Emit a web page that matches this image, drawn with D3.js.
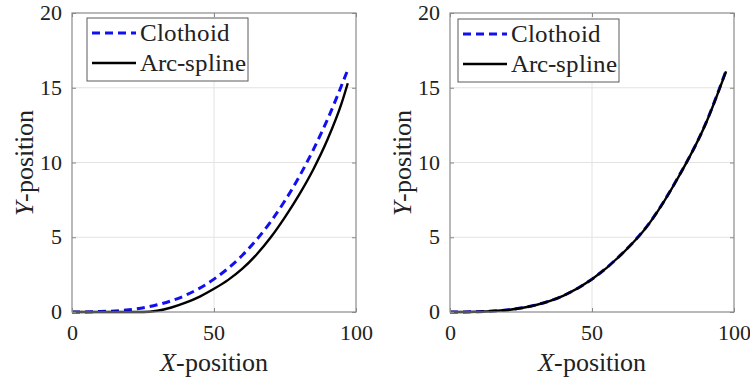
<!DOCTYPE html>
<html><head><meta charset="utf-8"><script src="https://cdn.jsdelivr.net/npm/d3@7"></script>
<style>
  @font-face { font-family: "CMish"; font-style: normal; src: local("Liberation Serif"), local("LiberationSerif"), local("Liberation Serif Regular"), local("Times New Roman"); }
  @font-face { font-family: "CMish"; font-style: italic; src: local("Liberation Serif Italic"), local("LiberationSerif-Italic"), local("Times New Roman Italic"); }
</style>
</head>
<body style="margin:0">
<svg id="chart" width="750" height="383" font-family="Liberation Serif" style="font-family: 'Liberation Serif'"></svg>
<script>
// tick values
const xTicks = [0, 50, 100];
const yTicks = [0, 5, 10, 15, 20];
const seriesNames = ['Clothoid', 'Arc-spline'];

// left panel
const leftClothoidX = [0, 10, 20, 30, 40, 50, 60, 70, 80, 90, 97.3];
const leftClothoidY = [0, 0.03, 0.15, 0.48, 1.12, 2.2, 3.8, 6.05, 9.05, 12.9, 16.3];
const leftArcX = [0, 20, 25, 30, 35, 40, 45, 50, 55, 60, 65, 70, 75, 80, 85, 90, 95, 97.1];
const leftArcY = [0, 0, 0, 0.08, 0.3, 0.62, 1.03, 1.55, 2.15, 2.9, 3.85, 5.0, 6.35, 7.85, 9.55, 11.55, 14.0, 15.3];

// right panel
const rightClothoidX = [0, 10, 20, 30, 40, 50, 60, 70, 80, 90, 97.2];
const rightClothoidY = [0, 0.02, 0.14, 0.46, 1.1, 2.2, 3.8, 5.9, 8.9, 12.6, 16.15];
const rightArcX = [0, 10, 20, 30, 40, 50, 60, 70, 80, 90, 97.2];
const rightArcY = [0, 0.02, 0.13, 0.45, 1.09, 2.19, 3.78, 5.88, 8.88, 12.58, 16.1];

const zip = (xs, ys) => xs.map((x, i) => [x, ys[i]]);
const FONT = '"CMish", "Liberation Serif"';

const panels = [
  { left: 72, legendX: 87, legendY: 18, yLabelX: 33,
    series: [zip(leftClothoidX, leftClothoidY), zip(leftArcX, leftArcY)] },
  { left: 450, legendX: 458, legendY: 19, yLabelX: 411,
    series: [zip(rightClothoidX, rightClothoidY), zip(rightArcX, rightArcY)] }
];

const plotW = 284, plotTop = 13, plotH = 299;
const styles = [
  { stroke: '#1010f0', width: 3, dash: '8,5' },
  { stroke: '#000', width: 2.4, dash: null }
];

const svg = d3.select('#chart');

// text helper: sets the font both ways
const serif = sel => sel.attr('font-family', 'Liberation Serif').style('font-family', FONT);

panels.forEach(p => {
  const x = d3.scaleLinear().domain([0, 100]).range([p.left, p.left + plotW]);
  const y = d3.scaleLinear().domain([0, 20]).range([plotTop + plotH, plotTop]);

  // grid
  svg.append('g').selectAll('line').data(xTicks.slice(1, -1)).enter().append('line')
    .attr('x1', d => x(d)).attr('x2', d => x(d))
    .attr('y1', plotTop).attr('y2', plotTop + plotH)
    .attr('stroke', '#e3e3e3').attr('stroke-width', 1);
  svg.append('g').selectAll('line').data(yTicks.slice(1, -1)).enter().append('line')
    .attr('y1', d => y(d)).attr('y2', d => y(d))
    .attr('x1', p.left).attr('x2', p.left + plotW)
    .attr('stroke', '#e3e3e3').attr('stroke-width', 1);

  // curves
  const line = d3.line().x(d => x(d[0])).y(d => y(d[1])).curve(d3.curveMonotoneX);
  p.series.forEach((s, i) => {
    svg.append('path').datum(s)
      .attr('d', line)
      .attr('fill', 'none')
      .attr('stroke', styles[i].stroke)
      .attr('stroke-width', styles[i].width)
      .attr('stroke-dasharray', styles[i].dash);
  });

  // axes: ticks only, inward on all sides
  const tickLen = 4;
  const axes = svg.append('g');
  axes.append('g').attr('transform', `translate(0,${plotTop + plotH})`)
    .call(d3.axisBottom(x).tickValues(xTicks).tickSizeInner(-tickLen).tickSizeOuter(0).tickFormat(''));
  axes.append('g').attr('transform', `translate(0,${plotTop})`)
    .call(d3.axisTop(x).tickValues(xTicks).tickSizeInner(-tickLen).tickSizeOuter(0).tickFormat(''));
  axes.append('g').attr('transform', `translate(${p.left},0)`)
    .call(d3.axisLeft(y).tickValues(yTicks).tickSizeInner(-tickLen).tickSizeOuter(0).tickFormat(''));
  axes.append('g').attr('transform', `translate(${p.left + plotW},0)`)
    .call(d3.axisRight(y).tickValues(yTicks).tickSizeInner(-tickLen).tickSizeOuter(0).tickFormat(''));
  axes.selectAll('.domain').remove();
  axes.selectAll('.tick text').remove();
  axes.selectAll('.tick line').attr('stroke', '#888');

  // tick labels placed by the scales
  svg.selectAll(null).data(xTicks).enter().append('text')
    .attr('x', d => x(d)).attr('y', plotTop + plotH + 28)
    .attr('text-anchor', 'middle').attr('font-size', 22).attr('fill', '#222')
    .call(serif)
    .text(d => d);
  svg.selectAll(null).data(yTicks).enter().append('text')
    .attr('x', p.left - 10).attr('y', d => y(d) + 7)
    .attr('text-anchor', 'end').attr('font-size', 22).attr('fill', '#222')
    .call(serif)
    .text(d => d);

  // box
  svg.append('rect')
    .attr('x', p.left).attr('y', plotTop)
    .attr('width', plotW).attr('height', plotH)
    .attr('fill', 'none').attr('stroke', '#8a8a8a').attr('stroke-width', 1.2);

  // axis labels
  const xl = svg.append('text')
    .attr('x', p.left + plotW / 2).attr('y', 371)
    .attr('text-anchor', 'middle').attr('fill', '#222').attr('font-size', 26)
    .call(serif);
  xl.append('tspan').attr('font-style', 'italic').call(serif).text('X');
  xl.append('tspan').call(serif).text('-position');

  const yl = svg.append('text')
    .attr('transform', `translate(${p.yLabelX},${plotTop + plotH / 2}) rotate(-90)`)
    .attr('text-anchor', 'middle').attr('fill', '#222').attr('font-size', 26)
    .call(serif);
  yl.append('tspan').attr('font-style', 'italic').call(serif).text('Y');
  yl.append('tspan').call(serif).text('-position');

  // legend
  svg.append('rect')
    .attr('x', p.legendX).attr('y', p.legendY)
    .attr('width', 161).attr('height', 63)
    .attr('fill', '#fff').attr('stroke', '#5a5a5a').attr('stroke-width', 1);
  seriesNames.forEach((name, i) => {
    const cy = p.legendY + 15 + i * 30;
    svg.append('line')
      .attr('x1', p.legendX + 5).attr('x2', p.legendX + 49).attr('y1', cy).attr('y2', cy)
      .attr('stroke', styles[i].stroke).attr('stroke-width', styles[i].width)
      .attr('stroke-dasharray', styles[i].dash);
    svg.append('text')
      .attr('x', p.legendX + 53).attr('y', cy + 8)
      .attr('font-size', 25).attr('fill', '#222')
      .call(serif)
      .text(name);
  });
});
</script>
</body></html>
